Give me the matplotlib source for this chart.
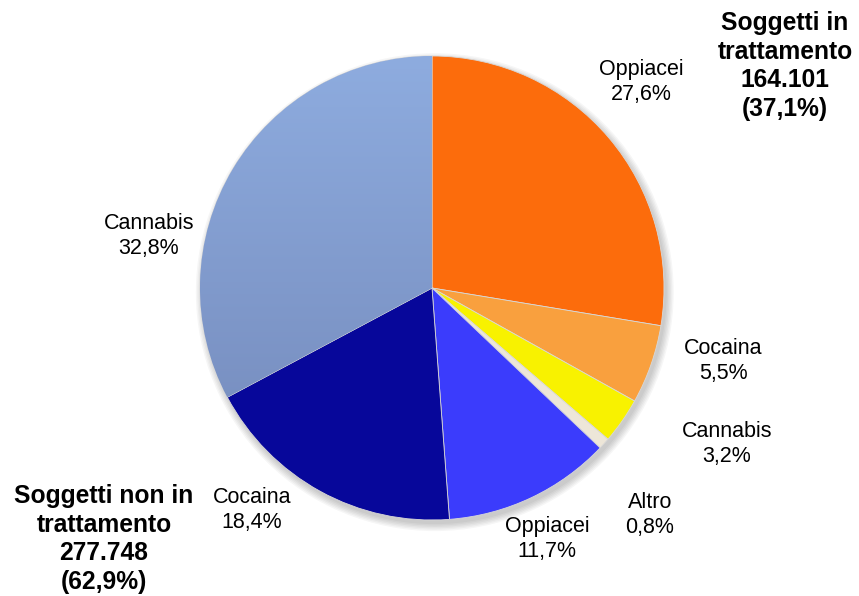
import numpy as np
import matplotlib.pyplot as plt
from matplotlib.colors import LinearSegmentedColormap

# share of users by substance, clockwise from 12 o'clock
labels = ["Oppiacei", "Cocaina", "Cannabis", "Altro", "Oppiacei", "Cocaina", "Cannabis"]
shares = [27.6, 5.5, 3.2, 0.8, 11.7, 18.4, 32.8]
colors = ["#FC6C0C", "#F9A03E", "#F8F200", "#EDE6D8", "#3B3CFC", "#07079A", "#849FCF"]

# label centres in pixels (x from left, y from top)
label_pos = [(641, 82), (723, 361), (727, 444), (650, 515), (547, 539), (252, 510), (149, 236)]

group_in = "Soggetti in\ntrattamento\n164.101\n(37,1%)"
group_out = "Soggetti non in\ntrattamento\n277.748\n(62,9%)"

W, H = 859, 596
fig = plt.figure(figsize=(W / 100, H / 100), dpi=100)
plt.rcParams['font.family'] = ['Liberation Sans', 'DejaVu Sans']

cx, cy, r = 432, 288, 232
ax = fig.add_axes([(cx - r) / W, (H - cy - r) / H, 2 * r / W, 2 * r / H])

# soft drop shadow under the pie, built from a few stacked faint discs
for k in range(6):
    ax.add_patch(plt.Circle((0.012, -0.018), 1.0 + 0.006 * k, color="#000000",
                            alpha=0.035, zorder=0, clip_on=False, lw=0))

wedges, _ = ax.pie(shares, colors=colors, startangle=90, counterclock=False,
                   radius=1.0, wedgeprops=dict(edgecolor="#d8d8d8", linewidth=0.6))
for w in wedges:
    w.set_zorder(2)
    w.set_clip_on(False)

# vertical gradient on the large cannabis slice (lighter at the top)
grad_cmap = LinearSegmentedColormap.from_list("steel", ["#7287B8", "#8EACDF"])
grad = np.linspace(0, 1, 256).reshape(-1, 1)
img = ax.imshow(grad, cmap=grad_cmap, extent=(-1, 1, -1, 1), origin="lower",
                aspect="auto", zorder=2.5)
img.set_clip_path(wedges[-1])

ax.set_xlim(-1, 1)
ax.set_ylim(-1, 1)
ax.axis("off")

for (lab, val), (px, py) in zip(zip(labels, shares), label_pos):
    txt = f"{lab}\n{val:.1f}%".replace(".", ",")
    fig.text(px / W, 1 - py / H, txt, ha="center", va="center",
             fontsize=15.5, linespacing=1.2, color="#000000")

fig.text(785 / W, 1 - 66 / H, group_in, ha="center", va="center",
         fontsize=17.7, fontweight="bold", linespacing=1.25)
fig.text(104 / W, 1 - 539 / H, group_out, ha="center", va="center",
         fontsize=17.7, fontweight="bold", linespacing=1.25)

fig.savefig("out.png", dpi=100)
